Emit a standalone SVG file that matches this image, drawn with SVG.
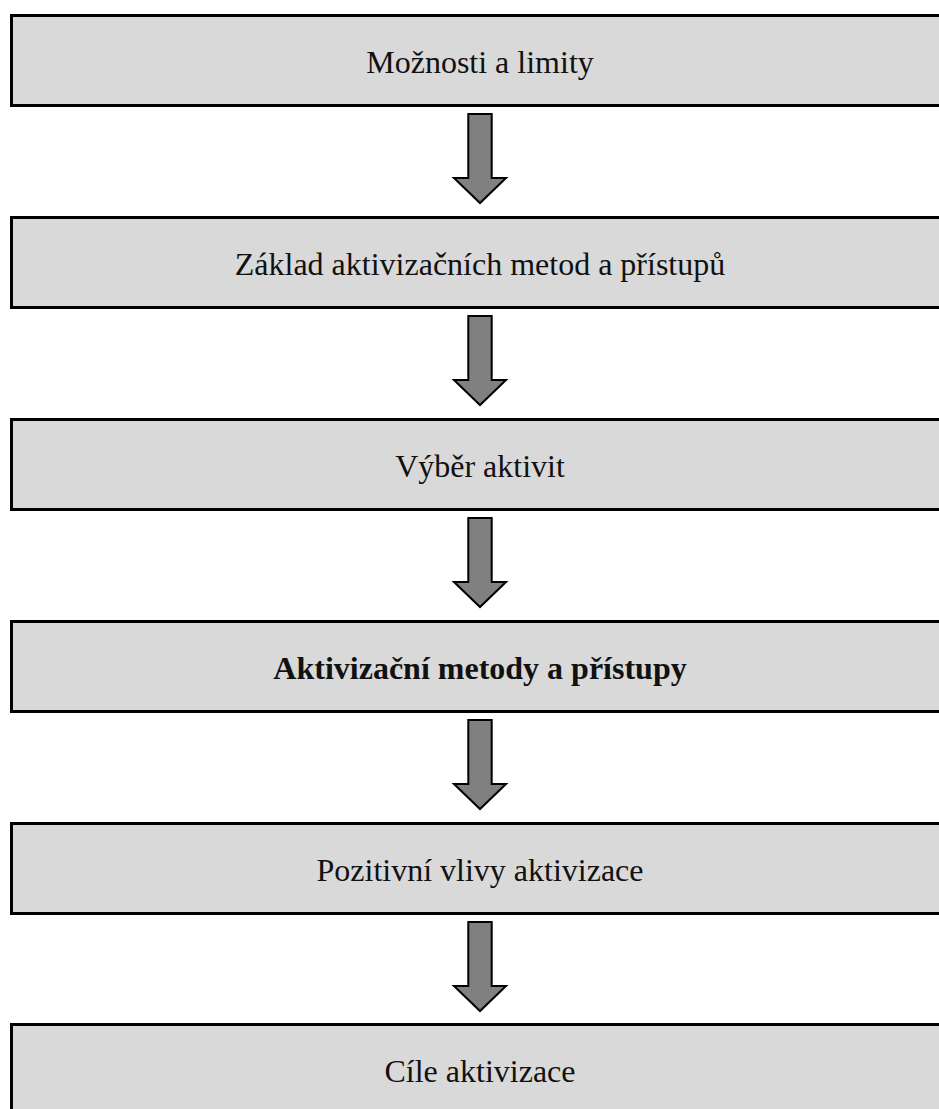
<svg xmlns="http://www.w3.org/2000/svg" width="939" height="1109" viewBox="0 0 939 1109">
<style>
.box{fill:#d9d9d9;stroke:#000;stroke-width:3}
.lbl{font-family:"Liberation Serif","Times New Roman",serif;font-size:32px;fill:#111;text-anchor:middle}
.b{font-weight:bold}
.arr{fill:#808080;stroke:#000;stroke-width:2;stroke-linejoin:miter}
</style>
<defs>
<polygon id="arrow" class="arr" points="468.3,0 491.7,0 491.7,64 506,64 480,89 454,64 468.3,64"/>
</defs>
<rect x="0" y="0" width="939" height="1109" fill="#fff"/>
<g id="connectors">
<use href="#arrow" y="114"/>
<use href="#arrow" y="316"/>
<use href="#arrow" y="518"/>
<use href="#arrow" y="720"/>
<use href="#arrow" y="922"/>
</g>
<g id="n1"><rect class="box" x="11.5" y="15.5" width="940" height="90"/><text class="lbl" x="480" y="72.5">Možnosti a limity</text></g>
<g id="n2"><rect class="box" x="11.5" y="217.5" width="940" height="90"/><text class="lbl" x="480" y="274.5">Základ aktivizačních metod a přístupů</text></g>
<g id="n3"><rect class="box" x="11.5" y="419.5" width="940" height="90"/><text class="lbl" x="480" y="476.5">Výběr aktivit</text></g>
<g id="n4"><rect class="box" x="11.5" y="621.5" width="940" height="90"/><text class="lbl b" x="480" y="678.5">Aktivizační metody a přístupy</text></g>
<g id="n5"><rect class="box" x="11.5" y="823.5" width="940" height="90"/><text class="lbl" x="480" y="880.5">Pozitivní vlivy aktivizace</text></g>
<g id="n6"><rect class="box" x="11.5" y="1024.5" width="940" height="120"/><text class="lbl" x="480" y="1081.5">Cíle aktivizace</text></g>
</svg>
